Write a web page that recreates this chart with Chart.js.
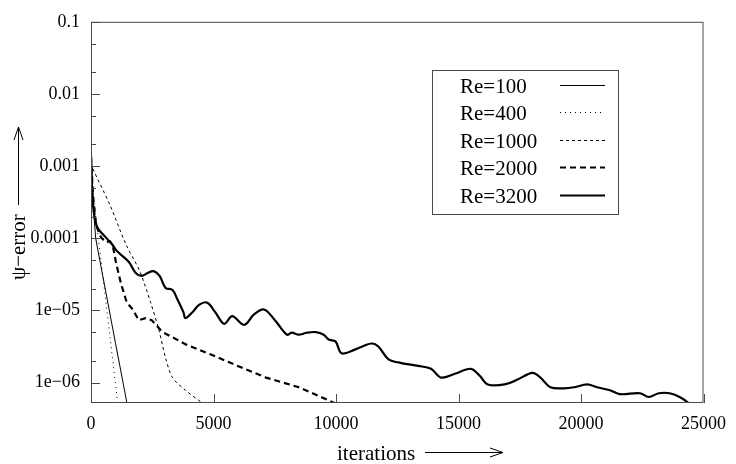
<!DOCTYPE html>
<html>
<head>
<meta charset="utf-8">
<script src="https://cdn.jsdelivr.net/npm/chart.js@4.4.1/dist/chart.umd.min.js"></script>
<style>
  html, body { margin: 0; padding: 0; background: #fff; }
  #wrap { width: 736px; height: 464px; }
</style>
</head>
<body>
<div id="wrap"><canvas id="psiChart" width="736" height="464"></canvas></div>
<script>
// convergence history of the stream function error, one series per Reynolds number
const seriesLabels = ['Re=100', 'Re=400', 'Re=1000', 'Re=2000', 'Re=3200'];

// [iteration, psi-error]
const re100 = [[0, 1.3e-3], [100, 2.6e-4], [190, 1.0e-4], [1000, 3.5e-6], [1550, 3.7e-7]];
const re400 = [[0, 1.5e-3], [100, 4.0e-4], [298, 1.0e-4], [609, 1.3e-5], [1150, 3.5e-7]];
const re1000 = [
  [0, 1.1e-3], [81, 9.1e-4], [771, 2.9e-4], [1420, 8.3e-5], [1988, 3.5e-5], [2435, 1.28e-5],
  [2760, 5.5e-6], [3043, 2.2e-6], [3327, 1.17e-6], [3855, 7.8e-7], [4382, 5.7e-7], [4545, 5.2e-7],
  [4700, 4.5e-7]
];
const re2000 = [
  [0, 1.36e-3], [81, 3.9e-4], [203, 1.55e-4], [325, 1.2e-4], [406, 1.03e-4], [609, 8.8e-5],
  [771, 9.1e-5], [893, 7.8e-5], [1015, 4.7e-5], [1217, 2.4e-5], [1461, 1.28e-5], [1704, 1.03e-5],
  [1948, 7.3e-6], [2232, 7.8e-6], [2475, 7.3e-6], [2922, 5.0e-6], [3855, 3.4e-6], [4951, 2.4e-6],
  [6168, 1.6e-6], [7142, 1.17e-6], [8481, 8.6e-7], [9942, 5.2e-7], [10000, 4.0e-7]
];
const re3200 = [
  [0, 1.4e-3], [81, 2.9e-4], [243, 1.45e-4], [568, 1.06e-4], [852, 8.3e-5], [1015, 6.9e-5],
  [1177, 6.1e-5], [1542, 4.7e-5], [1826, 3.3e-5], [2070, 3.0e-5], [2313, 3.3e-5], [2557, 3.5e-5],
  [2800, 3.0e-5], [3044, 2.05e-5], [3328, 1.92e-5], [3531, 1.41e-5], [3774, 9.4e-6], [3855, 7.8e-6],
  [4139, 9.4e-6], [4423, 1.2e-5], [4748, 1.28e-5], [5072, 9.4e-6], [5438, 6.5e-6], [5762, 8.3e-6],
  [6249, 6.3e-6], [6655, 8.8e-6], [7061, 1.03e-5], [7508, 7.3e-6], [7995, 4.6e-6], [8198, 4.9e-6],
  [8482, 4.6e-6], [8807, 4.9e-6], [9172, 5.0e-6], [9497, 4.6e-6], [9700, 3.94e-6], [9984, 3.7e-6],
  [10228, 2.54e-6], [10795, 2.88e-6], [11445, 3.47e-6], [11729, 3.16e-6], [12134, 2.11e-6],
  [12662, 1.86e-6], [13352, 1.7e-6], [13880, 1.55e-6], [14285, 1.17e-6], [14853, 1.32e-6],
  [15503, 1.55e-6], [15868, 1.24e-6], [16193, 9.4e-7], [16883, 9.4e-7], [17410, 1.1e-6],
  [18019, 1.36e-6], [18344, 1.17e-6], [18750, 8.6e-7], [19318, 8.3e-7], [19724, 8.6e-7],
  [20252, 9.4e-7], [20657, 8.6e-7], [21185, 7.8e-7], [21590, 6.9e-7], [22402, 7.1e-7],
  [22767, 6.3e-7], [23173, 7.1e-7], [23619, 7.1e-7], [24025, 6.3e-7], [24390, 5.2e-7], [24600, 4.4e-7]
];
const seriesData = [re100, re400, re1000, re2000, re3200];

const xTickValues = [0, 5000, 10000, 15000, 20000, 25000];
const xTickLabels = ['0', '5000', '10000', '15000', '20000', '25000'];
const yTickValues = [0.1, 0.01, 0.001, 0.0001, 1e-5, 1e-6];
const yTickLabels = ['0.1', '0.01', '0.001', '0.0001', '1e\u221205', '1e\u221206'];

const xTitle = 'iterations';
const yTitle = '\u03c8\u2212error';

const lineStyles = [
  { width: 1, dash: [], tension: 0 },
  { width: 1, dash: [1, 4], tension: 0 },
  { width: 1, dash: [3, 3], tension: 0.3 },
  { width: 2.2, dash: [6, 4], tension: 0 },
  { width: 2.2, dash: [], tension: 0.35 }
];

const SERIF = "'Liberation Serif', 'Times New Roman', serif";
Chart.defaults.font.family = SERIF;
Chart.defaults.color = '#000';

function arrow(ctx, x1, y1, x2, y2) {
  const a = Math.atan2(y2 - y1, x2 - x1);
  const len = 13, half = 4.5;
  ctx.beginPath();
  ctx.moveTo(x1, y1);
  ctx.lineTo(x2, y2);
  ctx.moveTo(x2 - len * Math.cos(a) + half * Math.sin(a), y2 - len * Math.sin(a) - half * Math.cos(a));
  ctx.lineTo(x2, y2);
  ctx.lineTo(x2 - len * Math.cos(a) - half * Math.sin(a), y2 - len * Math.sin(a) + half * Math.cos(a));
  ctx.stroke();
}

// frame, inward ticks, key box and axis titles
const decorations = {
  id: 'decorations',
  afterDraw(chart) {
    const { ctx, chartArea: ca, scales } = chart;
    const xs = scales.x, ys = scales.y;
    ctx.save();
    ctx.strokeStyle = '#4a4a4a';
    ctx.lineWidth = 1;
    ctx.setLineDash([]);
    ctx.strokeRect(ca.left + 0.5, ca.top + 0.5, ca.right - ca.left - 1, ca.bottom - ca.top - 1);

    // y ticks: decades long, 2 and 5 short
    ctx.beginPath();
    for (let e = -7; e <= -1; e++) {
      [1, 2, 5].forEach(m => {
        const v = m * Math.pow(10, e);
        if (v < ys.min || v > ys.max) return;
        const py = Math.round(ys.getPixelForValue(v)) + 0.5;
        const len = m === 1 ? 9 : 5;
        ctx.moveTo(ca.left, py);
        ctx.lineTo(ca.left + len, py);
      });
    }
    xTickValues.forEach(v => {
      const px = Math.round(xs.getPixelForValue(v)) + 0.5;
      ctx.moveTo(px, ca.bottom);
      ctx.lineTo(px, ca.bottom - 9);
    });
    ctx.stroke();

    // key
    const box = { x: 432, y: 70, w: 186, h: 144 };
    ctx.strokeRect(box.x + 0.5, box.y + 0.5, box.w, box.h);
    ctx.font = '21px ' + SERIF;
    ctx.fillStyle = '#000';
    ctx.textAlign = 'left';
    ctx.textBaseline = 'alphabetic';
    chart.data.datasets.forEach((ds, i) => {
      const rowY = 86 + i * 27.4;
      ctx.fillText(ds.label, 460, rowY + 7);
      ctx.save();
      ctx.strokeStyle = '#000';
      ctx.lineWidth = ds.borderWidth;
      ctx.setLineDash(ds.borderDash);
      ctx.beginPath();
      ctx.moveTo(560, Math.round(rowY) - 0.5);
      ctx.lineTo(605, Math.round(rowY) - 0.5);
      ctx.stroke();
      ctx.restore();
    });

    // axis titles with arrows
    ctx.strokeStyle = '#000';
    ctx.lineWidth = 1;
    ctx.fillText(xTitle, 337, 460);
    arrow(ctx, 425, 452.5, 503, 452.5);

    ctx.save();
    ctx.translate(25, 280);
    ctx.rotate(-Math.PI / 2);
    ctx.fillText(yTitle, 0, 0);
    ctx.restore();
    arrow(ctx, 18.5, 205, 18.5, 127);
    ctx.restore();
  }
};

new Chart(document.getElementById('psiChart'), {
  type: 'line',
  data: {
    datasets: seriesData.map((pts, i) => ({
      label: seriesLabels[i],
      data: pts.map(p => ({ x: p[0], y: p[1] })),
      borderColor: '#000',
      borderWidth: lineStyles[i].width,
      borderDash: lineStyles[i].dash,
      tension: lineStyles[i].tension,
      pointRadius: 0,
      fill: false,
      clip: 0
    }))
  },
  options: {
    responsive: false,
    animation: false,
    devicePixelRatio: 1,
    layout: { padding: { top: 12, right: 29, left: 0, bottom: 0 } },
    plugins: { legend: { display: false }, tooltip: { enabled: false } },
    scales: {
      x: {
        type: 'linear',
        min: 0,
        max: 25000,
        grid: { display: false, drawTicks: false },
        border: { display: false },
        afterBuildTicks: s => { s.ticks = xTickValues.map(v => ({ value: v })); },
        afterFit: s => { s.height = 61; },
        ticks: {
          maxRotation: 0,
          padding: 10,
          font: { size: 18 },
          callback: (v, i) => xTickLabels[i]
        }
      },
      y: {
        type: 'logarithmic',
        min: 5.2e-7,
        max: 0.1,
        grid: { display: false, drawTicks: false },
        border: { display: false },
        afterBuildTicks: s => { s.ticks = yTickValues.map(v => ({ value: v })); },
        afterFit: s => { s.width = 91; },
        ticks: {
          padding: 11,
          font: { size: 18 },
          callback: (v, i) => yTickLabels[i]
        }
      }
    }
  },
  plugins: [decorations]
});
</script>
</body>
</html>
